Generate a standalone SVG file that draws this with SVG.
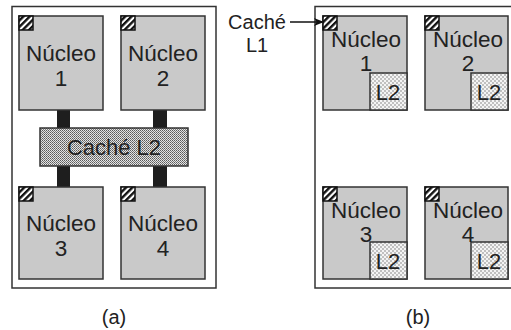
<svg xmlns="http://www.w3.org/2000/svg" width="511" height="330" viewBox="0 0 511 330">
<defs>
<pattern id="hatch" width="4.5" height="4.5" patternUnits="userSpaceOnUse" patternTransform="rotate(45)">
<rect width="4.5" height="4.5" fill="#fff"/>
<rect width="2.4" height="4.5" fill="#111"/>
</pattern>
<pattern id="dots" width="2" height="2" patternUnits="userSpaceOnUse">
<rect width="2" height="2" fill="#e4e4e4"/>
<rect width="1" height="1" fill="#5a5a5a"/>
<rect x="1" y="1" width="1" height="1" fill="#7a7a7a"/>
</pattern>
<pattern id="dots2" width="4" height="4" patternUnits="userSpaceOnUse">
<rect width="4" height="4" fill="#c0c0c0"/>
<rect width="2" height="2" fill="#f4f4f4"/>
<rect x="2" y="2" width="2" height="2" fill="#f4f4f4"/>
</pattern>
<marker id="arr" markerWidth="10" markerHeight="8" refX="9" refY="4" orient="auto" markerUnits="userSpaceOnUse">
<path d="M0,0 L10,4 L0,8 L2.5,4 Z" fill="#111"/>
</marker>
</defs>
<style>
.frame{fill:#fff;stroke:#333;stroke-width:1.5}
.core{fill:#c9c9c9;stroke:#333;stroke-width:1.5}
.l1{fill:url(#hatch);stroke:#111;stroke-width:1.5}
.l2{fill:url(#dots2);stroke:#333;stroke-width:1.5}
.bigl2{fill:url(#dots);stroke:#333;stroke-width:1.5}
.bar{fill:#1e1e1e}
text{font-family:"Liberation Sans",Arial,sans-serif;fill:#222;text-anchor:middle}
.t{font-size:22.5px}
.s{font-size:22px}
.lbl{font-size:20px}
</style>
<rect class="frame" x="12" y="6.5" width="204" height="281.5"/>
<rect class="frame" x="315" y="6.5" width="210" height="281.5"/>
<g id="connectors">
<rect class="bar" x="57" y="110" width="13" height="18"/>
<rect class="bar" x="153" y="110" width="14" height="18"/>
<rect class="bar" x="57" y="166" width="13" height="21"/>
<rect class="bar" x="153" y="166" width="14" height="21"/>
<line x1="290" y1="22" x2="323" y2="22" stroke="#111" stroke-width="1.5" marker-end="url(#arr)"/>
</g>
<g id="a-core1">
<rect class="core" x="19" y="16" width="84" height="94"/>
<rect class="l1" x="19" y="16" width="14" height="14"/>
<text class="t" x="61" y="61">Núcleo</text>
<text class="t" x="61" y="86">1</text>
</g>
<g id="a-core2">
<rect class="core" x="121" y="16" width="84" height="94"/>
<rect class="l1" x="121" y="16" width="14" height="14"/>
<text class="t" x="163" y="61">Núcleo</text>
<text class="t" x="163" y="86">2</text>
</g>
<g id="a-l2">
<rect class="bigl2" x="40" y="128" width="148" height="38"/>
<text class="s" x="114" y="155">Caché L2</text>
</g>
<g id="a-core3">
<rect class="core" x="19" y="187" width="84" height="92"/>
<rect class="l1" x="19" y="187" width="14" height="14"/>
<text class="t" x="61" y="231">Núcleo</text>
<text class="t" x="61" y="256">3</text>
</g>
<g id="a-core4">
<rect class="core" x="121" y="187" width="84" height="92"/>
<rect class="l1" x="121" y="187" width="14" height="14"/>
<text class="t" x="163" y="231">Núcleo</text>
<text class="t" x="163" y="256">4</text>
</g>
<g id="b-core1">
<rect class="core" x="323" y="16" width="84" height="94"/>
<rect class="l2" x="370" y="73" width="37" height="37"/>
<rect class="l1" x="323" y="16" width="14" height="14"/>
<text class="t" x="366" y="47">Núcleo</text>
<text class="t" x="366" y="71">1</text>
<text class="s" x="388" y="100">L2</text>
</g>
<g id="b-core2">
<rect class="core" x="425" y="16" width="83" height="94"/>
<rect class="l2" x="471" y="73" width="37" height="37"/>
<rect class="l1" x="425" y="16" width="14" height="14"/>
<text class="t" x="468" y="47">Núcleo</text>
<text class="t" x="468" y="71">2</text>
<text class="s" x="489" y="100">L2</text>
</g>
<g id="b-core3">
<rect class="core" x="323" y="187" width="84" height="92"/>
<rect class="l2" x="370" y="242" width="37" height="37"/>
<rect class="l1" x="323" y="187" width="14" height="14"/>
<text class="t" x="366" y="218">Núcleo</text>
<text class="t" x="366" y="242">3</text>
<text class="s" x="388" y="269">L2</text>
</g>
<g id="b-core4">
<rect class="core" x="425" y="187" width="83" height="92"/>
<rect class="l2" x="471" y="242" width="37" height="37"/>
<rect class="l1" x="425" y="187" width="14" height="14"/>
<text class="t" x="468" y="218">Núcleo</text>
<text class="t" x="468" y="242">4</text>
<text class="s" x="489" y="269">L2</text>
</g>
<g id="l1-label">
<text class="lbl" x="257" y="29">Caché</text>
<text class="lbl" x="257" y="52">L1</text>
</g>
<text class="lbl" x="114" y="324">(a)</text>
<text class="lbl" x="418" y="324">(b)</text>
</svg>
